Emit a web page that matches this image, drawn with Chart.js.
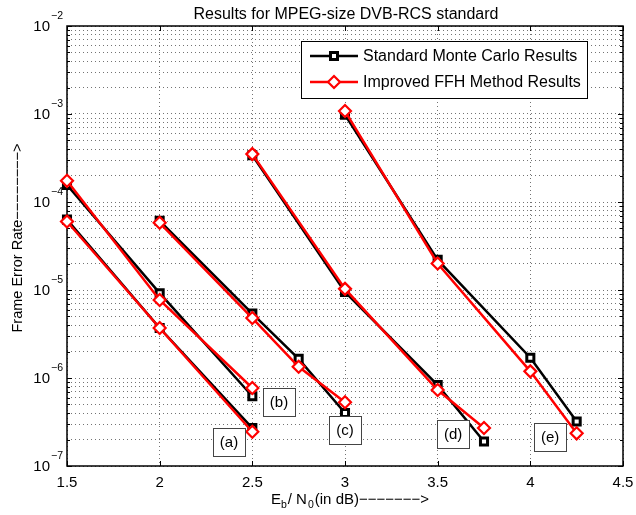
<!DOCTYPE html>
<html>
<head>
<meta charset="utf-8">
<style>
  html, body { margin: 0; padding: 0; background: #fff; }
  canvas { display: block; }
</style>
<script src="https://cdn.jsdelivr.net/npm/chart.js@4.4.0/dist/chart.umd.min.js"></script>
</head>
<body>
<canvas id="graficoFER" width="636" height="515"></canvas>
<script>
// === Frame Error Rate vs Eb/N0 ===

// Curva (a)
const xA = [1.5, 2, 2.5];
const stdA = [6.3e-5, 3.7e-6, 2.7e-7];
const ffhA = [6.0e-5, 3.7e-6, 2.45e-7];
// Curva (b)
const xB = [1.5, 2, 2.5];
const stdB = [1.56e-4, 9.2e-6, 6.2e-7];
const ffhB = [1.74e-4, 7.7e-6, 7.7e-7];
// Curva (c)
const xC = [2, 2.5, 2.75, 3];
const stdC = [6.1e-5, 5.4e-6, 1.65e-6, 4.0e-7];
const ffhC = [5.8e-5, 4.8e-6, 1.34e-6, 5.3e-7];
// Curva (d)
const xD = [2.5, 3, 3.5, 3.75];
const stdD = [3.4e-4, 9.5e-6, 8.3e-7, 1.9e-7];
const ffhD = [3.5e-4, 1.03e-5, 7.3e-7, 2.7e-7];
// Curva (e)
const xE = [3, 3.5, 4, 4.25];
const stdE = [9.8e-4, 2.2e-5, 1.7e-6, 3.2e-7];
const ffhE = [1.08e-3, 2.0e-5, 1.19e-6, 2.35e-7];

// Rótulos das curvas e onde ficam (em coordenadas dos dados)
const rotulos = ['(a)', '(b)', '(c)', '(d)', '(e)'];
const rotuloX = [2.374, 2.644, 3.0, 3.583, 4.107];
const rotuloY = [1.87e-7, 5.3e-7, 2.56e-7, 2.31e-7, 2.13e-7];

// Eixos
const xTicks = [1.5, 2, 2.5, 3, 3.5, 4, 4.5];
const yDecadas = [-7, -6, -5, -4, -3, -2];

const titulo = 'Results for MPEG-size DVB-RCS standard';
const nomeStd = 'Standard Monte Carlo Results';
const nomeFfh = 'Improved FFH Method Results';
const SETA = '\u2212';  // o matlab desenha o "-" como sinal de menos

const FONTE = '"Liberation Sans", Arial, sans-serif';
const PRETO = '#000000';
const VERMELHO = '#ff0000';

const curvas = [
  { x: xA, std: stdA, ffh: ffhA },
  { x: xB, std: stdB, ffh: ffhB },
  { x: xC, std: stdC, ffh: ffhC },
  { x: xD, std: stdD, ffh: ffhD },
  { x: xE, std: stdE, ffh: ffhE }
];

const datasets = [];
curvas.forEach(c => {
  datasets.push({
    label: nomeStd,
    data: c.x.map((v, i) => ({ x: v, y: c.std[i] })),
    borderColor: PRETO,
    borderWidth: 2.5,
    pointStyle: 'rect',
    pointRadius: 5,
    pointBorderWidth: 3,
    pointBorderColor: PRETO,
    pointBackgroundColor: '#fff',
    tension: 0,
    clip: false,
    order: 1
  });
  datasets.push({
    label: nomeFfh,
    data: c.x.map((v, i) => ({ x: v, y: c.ffh[i] })),
    borderColor: VERMELHO,
    borderWidth: 2.5,
    pointStyle: 'rectRot',
    pointRadius: 6,
    pointBorderWidth: 2.2,
    pointBorderColor: VERMELHO,
    pointBackgroundColor: '#fff',
    tension: 0,
    clip: false,
    order: 0
  });
});

// marcadores da legenda
function quadrado(ctx, x, y) {
  ctx.save();
  ctx.lineWidth = 3;
  ctx.strokeStyle = PRETO;
  ctx.fillStyle = '#fff';
  ctx.beginPath();
  ctx.rect(x - 3.5, y - 3.5, 7, 7);
  ctx.fill();
  ctx.stroke();
  ctx.restore();
}
function losango(ctx, x, y) {
  ctx.save();
  ctx.lineWidth = 2.2;
  ctx.strokeStyle = VERMELHO;
  ctx.fillStyle = '#fff';
  ctx.beginPath();
  ctx.moveTo(x, y - 6);
  ctx.lineTo(x + 6, y);
  ctx.lineTo(x, y + 6);
  ctx.lineTo(x - 6, y);
  ctx.closePath();
  ctx.fill();
  ctx.stroke();
  ctx.restore();
}

// Moldura, marcas internas, rótulos dos eixos
const molduraPlugin = {
  id: 'moldura',
  beforeDatasetsDraw(chart) {
    const { ctx, chartArea: a, scales } = chart;
    ctx.save();
    ctx.strokeStyle = PRETO;
    ctx.lineWidth = 1.5;
    ctx.strokeRect(a.left, a.top, a.right - a.left, a.bottom - a.top);
    ctx.lineWidth = 1;
    ctx.beginPath();
    xTicks.forEach(v => {
      const px = Math.round(scales.x.getPixelForValue(v)) + 0.5;
      ctx.moveTo(px, a.bottom); ctx.lineTo(px, a.bottom - 5);
      ctx.moveTo(px, a.top); ctx.lineTo(px, a.top + 5);
    });
    scales.y.ticks.forEach(t => {
      const py = Math.round(scales.y.getPixelForValue(t.value)) + 0.5;
      const len = t.major ? 5 : 3;
      ctx.moveTo(a.left, py); ctx.lineTo(a.left + len, py);
      ctx.moveTo(a.right, py); ctx.lineTo(a.right - len, py);
    });
    ctx.stroke();
    ctx.restore();
  },
  afterDraw(chart) {
    const { ctx, scales } = chart;
    ctx.save();
    ctx.fillStyle = PRETO;

    // título
    ctx.font = '16px ' + FONTE;
    ctx.textAlign = 'center';
    ctx.textBaseline = 'alphabetic';
    ctx.fillText(titulo, 346, 19);

    // rótulos do eixo x
    ctx.font = '15px ' + FONTE;
    ctx.textBaseline = 'middle';
    xTicks.forEach(v => {
      ctx.fillText(String(v), scales.x.getPixelForValue(v), 483);
    });

    // rótulos do eixo y (10^n)
    yDecadas.forEach(e => {
      const py = scales.y.getPixelForValue(Math.pow(10, e));
      ctx.font = '15px ' + FONTE;
      ctx.textAlign = 'right';
      ctx.fillText('10', 50, py + 1);
      ctx.font = '10.5px ' + FONTE;
      ctx.textAlign = 'left';
      ctx.fillText('\u2212' + Math.abs(e), 51, py - 10);
    });

    // título do eixo y
    ctx.save();
    ctx.translate(18, 238);
    ctx.rotate(-Math.PI / 2);
    ctx.font = '14.5px ' + FONTE;
    ctx.textAlign = 'center';
    ctx.fillText('Frame Error Rate' + SETA.repeat(8) + '>', 0, 0);
    ctx.restore();

    // título do eixo x: E_b / N_0(in dB)------->
    const partes = [
      ['E', 15, 0, 0], ['b', 10.5, 4, 1], ['/ N', 15, 0, 1], ['0', 10.5, 4, 1],
      ['(in dB)' + SETA.repeat(7) + '>', 15, 0, 0]
    ];
    let larg = 0;
    partes.forEach(p => { ctx.font = p[1] + 'px ' + FONTE; larg += ctx.measureText(p[0]).width + p[3]; });
    let xx = 350 - larg / 2;
    ctx.textAlign = 'left';
    ctx.textBaseline = 'alphabetic';
    partes.forEach(p => {
      ctx.font = p[1] + 'px ' + FONTE;
      ctx.fillText(p[0], xx, 504 + p[2]);
      xx += ctx.measureText(p[0]).width + p[3];
    });

    // caixas (a)...(e)
    ctx.font = '15px ' + FONTE;
    ctx.textAlign = 'center';
    ctx.textBaseline = 'middle';
    rotulos.forEach((r, i) => {
      const cx = scales.x.getPixelForValue(rotuloX[i]);
      const cy = scales.y.getPixelForValue(rotuloY[i]);
      ctx.fillStyle = '#fff';
      ctx.fillRect(cx - 16, cy - 14, 32, 28);
      ctx.strokeStyle = '#444';
      ctx.lineWidth = 1;
      ctx.strokeRect(Math.round(cx - 16) + 0.5, Math.round(cy - 14) + 0.5, 32, 28);
      ctx.fillStyle = PRETO;
      ctx.fillText(r, cx, cy + 1);
    });

    // legenda
    ctx.fillStyle = '#fff';
    ctx.fillRect(301, 41, 286, 57);
    ctx.strokeStyle = PRETO;
    ctx.lineWidth = 1;
    ctx.strokeRect(301.5, 41.5, 286, 57);
    const itens = [[nomeStd, PRETO, 56], [nomeFfh, VERMELHO, 82]];
    itens.forEach((it, k) => {
      ctx.strokeStyle = it[1];
      ctx.lineWidth = 2.5;
      ctx.beginPath();
      ctx.moveTo(310, it[2]); ctx.lineTo(358, it[2]);
      ctx.stroke();
      if (k === 0) quadrado(ctx, 334, it[2]); else losango(ctx, 334, it[2]);
      ctx.fillStyle = PRETO;
      ctx.font = '16px ' + FONTE;
      ctx.textAlign = 'left';
      ctx.textBaseline = 'middle';
      ctx.fillText(it[0], 363, it[2] + 1);
    });
    ctx.restore();
  }
};

const config = {
  type: 'line',
  data: { datasets: datasets },
  options: {
    responsive: false,
    animation: false,
    layout: { padding: { left: 67, top: 26, right: 13, bottom: 49 } },
    plugins: {
      legend: { display: false },
      tooltip: { enabled: false },
      title: { display: false }
    },
    scales: {
      x: {
        type: 'linear',
        min: 1.5,
        max: 4.5,
        ticks: { display: false, stepSize: 0.5 },
        grid: { color: 'rgba(0,0,0,0.55)', lineWidth: 1, drawTicks: false },
        border: { display: false, dash: [1, 3] },
        afterFit: s => { s.height = 0; }
      },
      y: {
        type: 'logarithmic',
        min: 1e-7,
        max: 1e-2,
        ticks: { display: false },
        afterBuildTicks: s => {
          const t = [];
          yDecadas.forEach((e, i) => {
            if (i === yDecadas.length - 1) { t.push({ value: Math.pow(10, e), major: true }); return; }
            for (let m = 1; m <= 9; m++) t.push({ value: m * Math.pow(10, e), major: m === 1 });
          });
          s.ticks = t;
        },
        grid: { color: 'rgba(0,0,0,0.55)', lineWidth: 1, drawTicks: false },
        border: { display: false, dash: [1, 3] },
        afterFit: s => { s.width = 0; }
      }
    }
  },
  plugins: [molduraPlugin]
};

new Chart(document.getElementById('graficoFER'), config);
</script>
</body>
</html>
